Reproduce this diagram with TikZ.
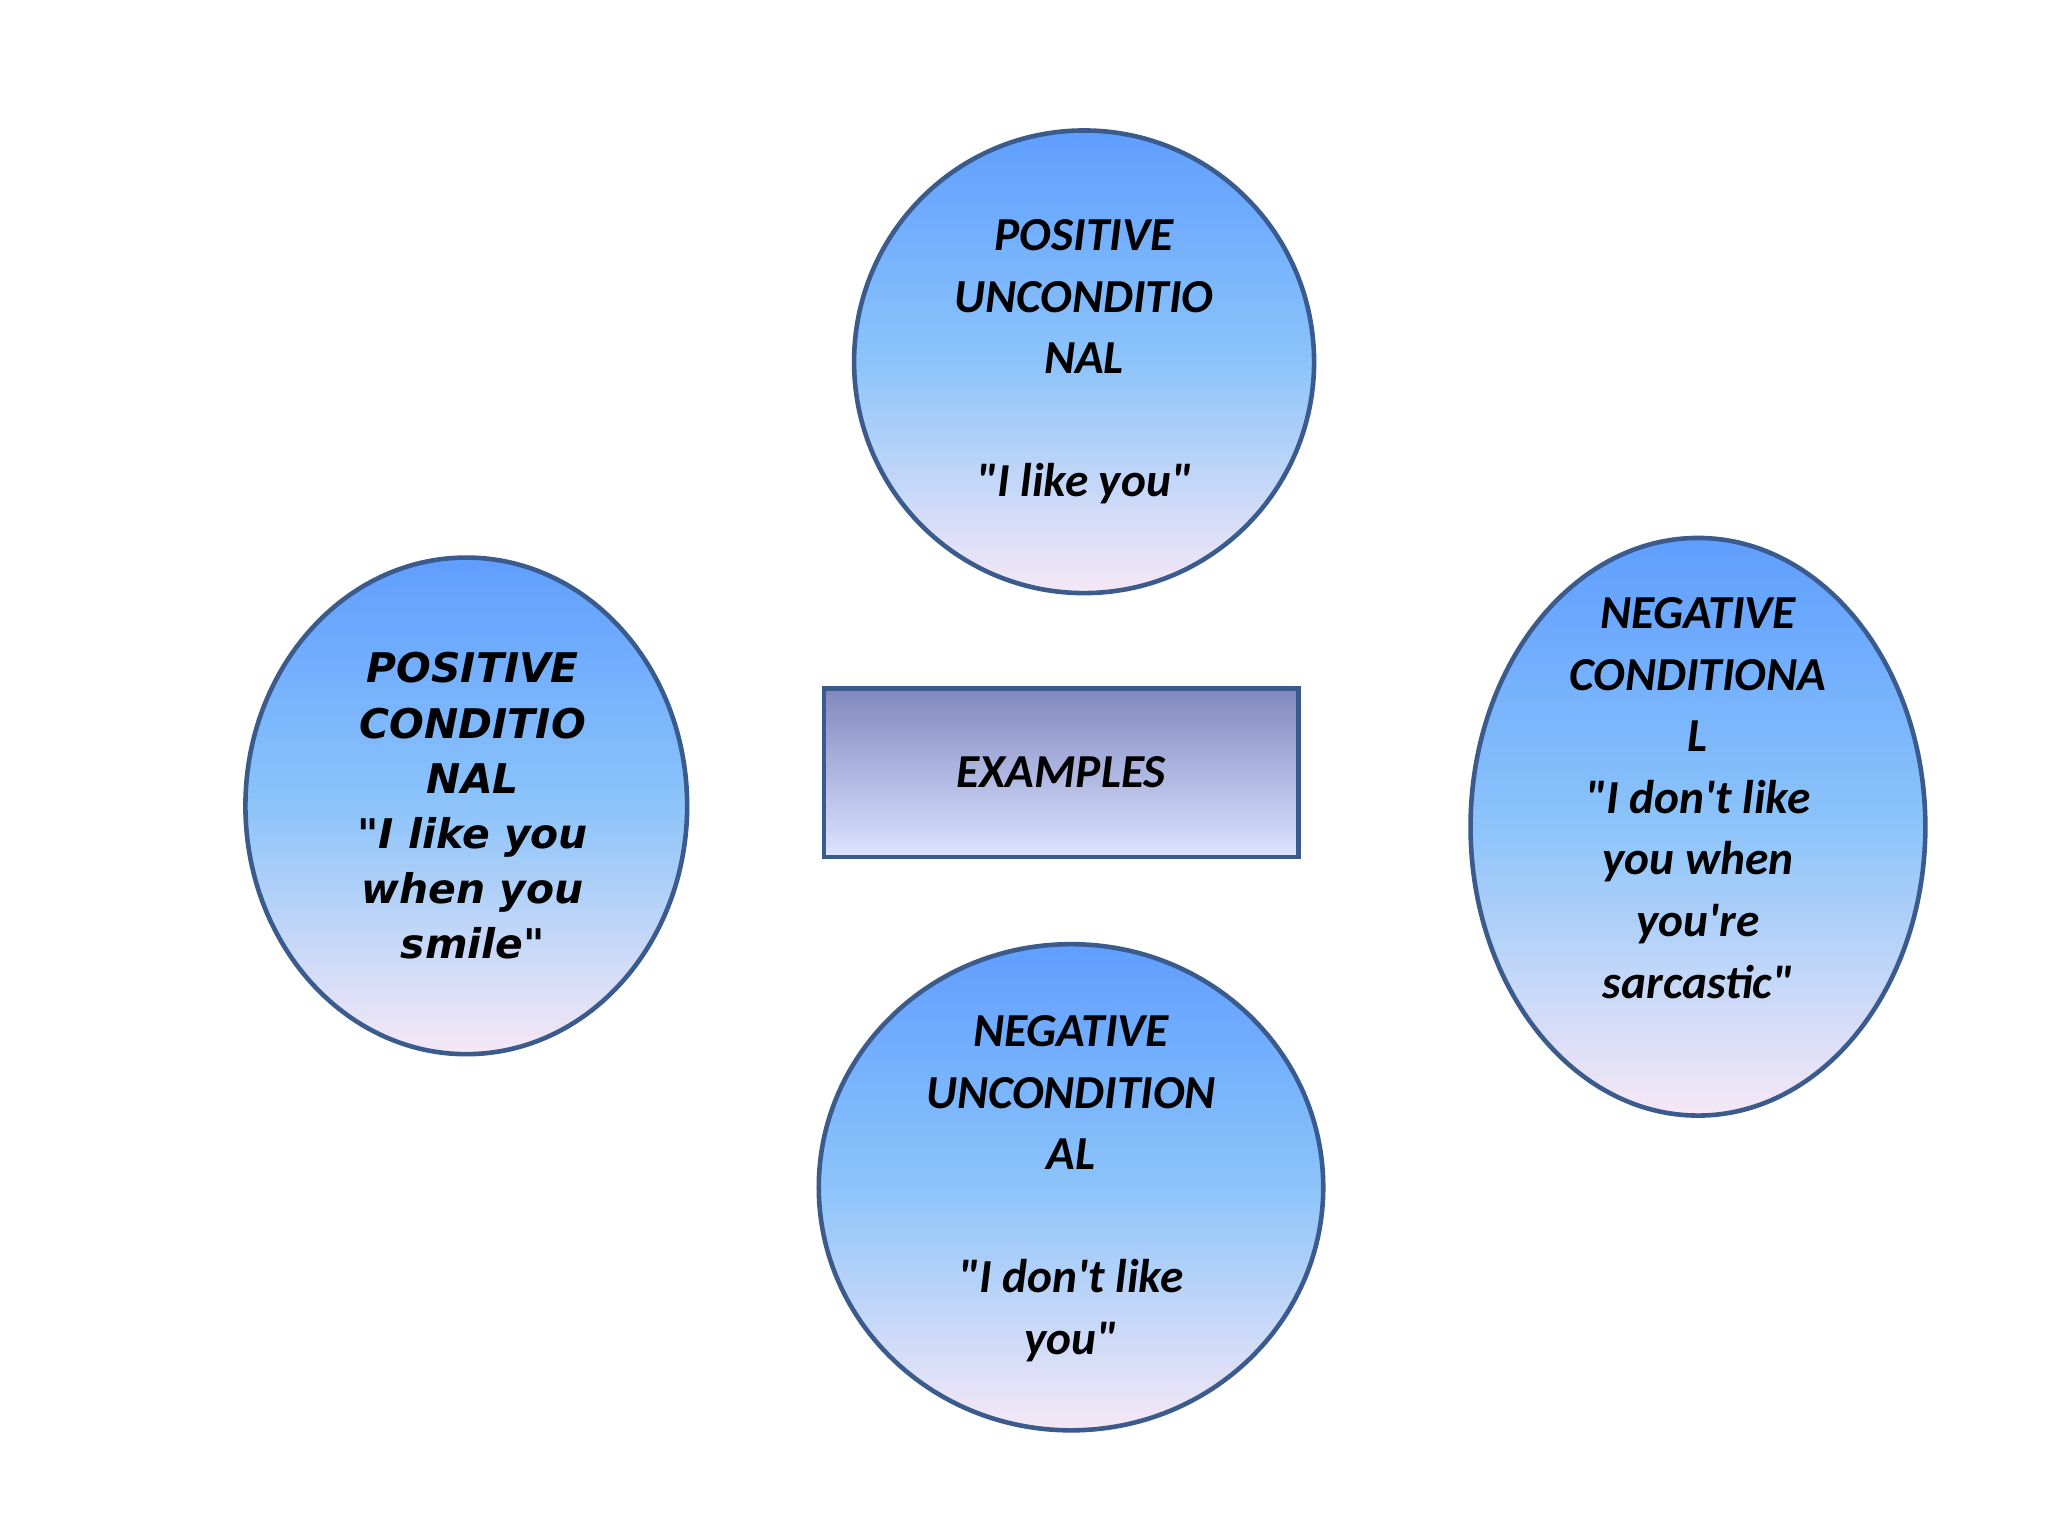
\documentclass[tikz,border=0pt]{standalone}
\usepackage{fontspec}
\setmainfont{Carlito}
\newfontfamily\leftfont{DejaVu Sans}
\usetikzlibrary{shapes.geometric}
\definecolor{bord}{HTML}{3B5B8C}
\definecolor{topb}{HTML}{5F9EFF}
\definecolor{midb}{HTML}{8CC4FA}
\definecolor{botp}{HTML}{F6E8F6}
\definecolor{rtop}{HTML}{8088C0}
\definecolor{rbot}{HTML}{DCE4FF}
\newcommand{\qd}{\textquotedbl}
\newcommand{\qs}{\textquotesingle}
\tikzset{
  bubble/.style={ellipse, draw=bord, line width=1pt, top color=topb, bottom color=botp, middle color=midb, inner sep=0pt},
  txt/.style={align=center, font=\fontsize{10.3}{13.4}\selectfont\bfseries\itshape},
  ltxt/.style={align=center, font=\leftfont\fontsize{8.9}{12}\selectfont\bfseries\itshape}
}
\begin{document}
\begin{tikzpicture}[x=0.01cm,y=-0.01cm]
\useasboundingbox[fill=white] (0,0) rectangle (1568,1176);
\node[bubble, minimum width=3.52cm, minimum height=3.54cm] (pu) at (830,277) {};
\node[bubble, minimum width=3.38cm, minimum height=3.80cm] (pc) at (357,617) {};
\node[bubble, minimum width=3.48cm, minimum height=4.42cm] (nc) at (1300,633) {};
\node[bubble, minimum width=3.86cm, minimum height=3.72cm] (nu) at (820,909) {};
\node[draw=bord, line width=1pt, top color=rtop, bottom color=rbot, minimum width=3.63cm, minimum height=1.29cm, inner sep=0pt] (ex) at (812.5,591.5) {};
\node[txt] (ext) at (ex.center) {EXAMPLES};
\node[txt] (put) at (830,277) {POSITIVE\\UNCONDITIO\\NAL\\[13.4pt]\qd I like you\qd};
\node[ltxt] (pct) at (362,617) {POSITIVE\\CONDITIO\\NAL\\\qd I like you\\when you\\smile\qd};
\node[txt] (nct) at (1300,611) {NEGATIVE\\CONDITIONA\\L\\\qd I don\qs t like\\you when\\you\qs re\\sarcastic\qd};
\node[txt] (nut) at (820,910) {NEGATIVE\\UNCONDITION\\AL\\[13.4pt]\qd I don\qs t like\\you\qd};
\end{tikzpicture}
\end{document}
